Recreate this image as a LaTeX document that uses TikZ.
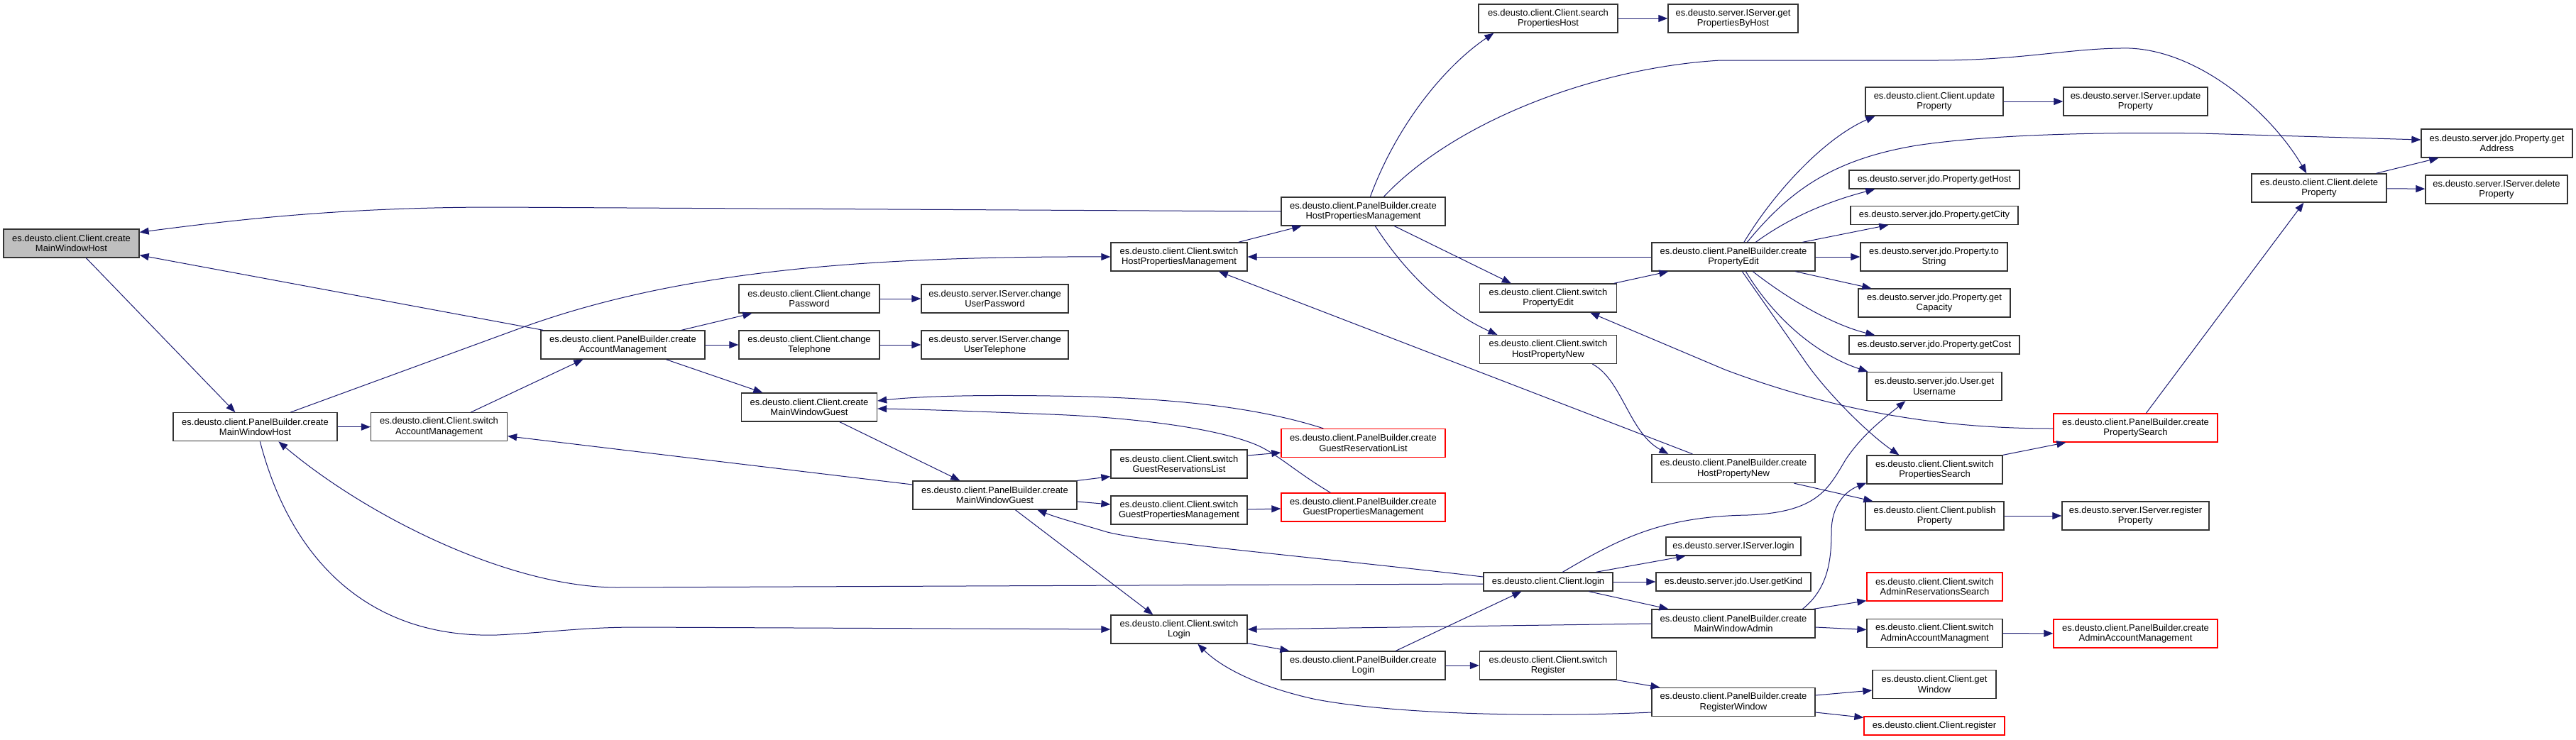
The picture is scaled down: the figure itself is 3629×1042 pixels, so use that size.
\documentclass[tikz,border=0pt]{standalone}
\usepackage{fontspec}
\setmainfont{Liberation Sans}
\usetikzlibrary{arrows.meta,calc}
\definecolor{edgeblue}{HTML}{191970}
\definecolor{nodeborder}{HTML}{333333}
\definecolor{rootfill}{HTML}{BFBFBF}
\definecolor{redborder}{HTML}{FF0000}
\begin{document}
\begin{tikzpicture}[x=1pt,y=-1pt,
  box/.style={draw=nodeborder, line width=1.3pt, fill=white, rectangle, align=center, inner sep=1pt, minimum height=40pt, font=\fontsize{13}{14.5}\selectfont},
  onebox/.style={box, minimum height=26pt},
  redbox/.style={draw=redborder},
  rootbox/.style={fill=rootfill},
  edge/.style={draw=edgeblue, line width=1pt, -{Triangle[length=13pt,width=10pt]}}]
\fill[white] (0,0) rectangle (3629,1042);
\useasboundingbox (0,0) rectangle (3629,1042);

% nodes
\node[box,rootbox,minimum width=191pt] (root) at (100.5,343) {es.deusto.client.Client.create\\MainWindowHost};
\node[box,minimum width=231pt] (pbMWH) at (359.5,601.7) {es.deusto.client.PanelBuilder.create\\MainWindowHost};
\node[box,minimum width=192pt] (swAM) at (618.5,601.7) {es.deusto.client.Client.switch\\AccountManagement};
\node[box,minimum width=231pt] (pbAM) at (877.5,486) {es.deusto.client.PanelBuilder.create\\AccountManagement};
\node[box,minimum width=198pt] (chPwd) at (1140,421) {es.deusto.client.Client.change\\Password};
\node[box,minimum width=198pt] (chTel) at (1140,486) {es.deusto.client.Client.change\\Telephone};
\node[box,minimum width=191pt] (cMWG) at (1140,574) {es.deusto.client.Client.create\\MainWindowGuest};
\node[box,minimum width=207pt] (chUPwd) at (1401.5,421) {es.deusto.server.IServer.change\\UserPassword};
\node[box,minimum width=207pt] (chUTel) at (1401.5,486) {es.deusto.server.IServer.change\\UserTelephone};
\node[box,minimum width=231pt] (pbMWG) at (1401.5,698) {es.deusto.client.PanelBuilder.create\\MainWindowGuest};
\node[box,minimum width=192pt] (swHPM) at (1661,362) {es.deusto.client.Client.switch\\HostPropertiesManagement};
\node[box,minimum width=192pt] (swGRL) at (1661,654) {es.deusto.client.Client.switch\\GuestReservationsList};
\node[box,minimum width=192pt] (swGPM) at (1661,719) {es.deusto.client.Client.switch\\GuestPropertiesManagement};
\node[box,minimum width=192pt] (swLogin) at (1661,887) {es.deusto.client.Client.switch\\Login};
\node[box,minimum width=231pt] (pbHPM) at (1920.5,298) {es.deusto.client.PanelBuilder.create\\HostPropertiesManagement};
\node[box,redbox,minimum width=231pt] (pbGRL) at (1920.5,624.5) {es.deusto.client.PanelBuilder.create\\GuestReservationList};
\node[box,redbox,minimum width=231pt] (pbGPM) at (1920.5,715) {es.deusto.client.PanelBuilder.create\\GuestPropertiesManagement};
\node[box,minimum width=231pt] (pbLogin) at (1920.5,938) {es.deusto.client.PanelBuilder.create\\Login};
\node[box,minimum width=196pt] (srchPH) at (2181,26) {es.deusto.client.Client.search\\PropertiesHost};
\node[box,minimum width=193pt] (swPE) at (2181,420) {es.deusto.client.Client.switch\\PropertyEdit};
\node[box,minimum width=193pt] (swHPN) at (2181,492.5) {es.deusto.client.Client.switch\\HostPropertyNew};
\node[onebox,minimum width=182pt] (login) at (2181,820) {es.deusto.client.Client.login};
\node[box,minimum width=193pt] (swReg) at (2181,938) {es.deusto.client.Client.switch\\Register};
\node[box,minimum width=183pt] (getPBH) at (2441.5,26) {es.deusto.server.IServer.get\\PropertiesByHost};
\node[box,minimum width=230pt] (pbPE) at (2442,362) {es.deusto.client.PanelBuilder.create\\PropertyEdit};
\node[box,minimum width=230pt] (pbHPN) at (2442,660.5) {es.deusto.client.PanelBuilder.create\\HostPropertyNew};
\node[onebox,minimum width=190pt] (srvLogin) at (2442,770) {es.deusto.server.IServer.login};
\node[onebox,minimum width=218pt] (getKind) at (2442,820) {es.deusto.server.jdo.User.getKind};
\node[box,minimum width=230pt] (pbMWA) at (2442,879) {es.deusto.client.PanelBuilder.create\\MainWindowAdmin};
\node[box,minimum width=230pt] (pbRW) at (2442,989.5) {es.deusto.client.PanelBuilder.create\\RegisterWindow};
\node[box,minimum width=194pt] (updP) at (2725,143) {es.deusto.client.Client.update\\Property};
\node[onebox,minimum width=240pt] (getHost) at (2725,253) {es.deusto.server.jdo.Property.getHost};
\node[onebox,minimum width=236pt] (getCity) at (2725,303.5) {es.deusto.server.jdo.Property.getCity};
\node[box,minimum width=207pt] (toStr) at (2724.5,362) {es.deusto.server.jdo.Property.to\\String};
\node[box,minimum width=214pt] (getCap) at (2725,427) {es.deusto.server.jdo.Property.get\\Capacity};
\node[onebox,minimum width=240pt] (getCost) at (2725,486) {es.deusto.server.jdo.Property.getCost};
\node[box,minimum width=190pt] (getUser) at (2725,544.5) {es.deusto.server.jdo.User.get\\Username};
\node[box,minimum width=191pt] (swPS) at (2725.5,662) {es.deusto.client.Client.switch\\PropertiesSearch};
\node[box,minimum width=195pt] (pubP) at (2725.5,727) {es.deusto.client.Client.publish\\Property};
\node[box,redbox,minimum width=191pt] (swARS) at (2725.5,827) {es.deusto.client.Client.switch\\AdminReservationsSearch};
\node[box,minimum width=191pt] (swAAM) at (2725.5,892.5) {es.deusto.client.Client.switch\\AdminAccountManagment};
\node[box,minimum width=174pt] (getWin) at (2725,964.5) {es.deusto.client.Client.get\\Window};
\node[onebox,redbox,minimum width=198pt] (reg) at (2725,1023) {es.deusto.client.Client.register};
\node[box,minimum width=203pt] (srvUpd) at (3008.5,143) {es.deusto.server.IServer.update\\Property};
\node[box,redbox,minimum width=231pt] (pbPS) at (3008.5,603) {es.deusto.client.PanelBuilder.create\\PropertySearch};
\node[box,minimum width=207pt] (srvReg) at (3008.5,727) {es.deusto.server.IServer.register\\Property};
\node[box,redbox,minimum width=231pt] (pbAAM) at (3008.5,893) {es.deusto.client.PanelBuilder.create\\AdminAccountManagement};
\node[box,minimum width=190pt] (delP) at (3267,265) {es.deusto.client.Client.delete\\Property};
\node[box,minimum width=213pt] (getAddr) at (3517.5,202) {es.deusto.server.jdo.Property.get\\Address};
\node[box,minimum width=200pt] (srvDel) at (3517,267) {es.deusto.server.IServer.delete\\Property};

% edges
\draw[edge] ($(root.south west)+(117,0)$) -- ($(pbMWH.north west)+(88,0)$);
\draw[edge] (pbHPM.west) -- (700,292) .. controls (480,292) and (330,310) .. ($(root.north east)+(0,5)$);
\draw[edge] ($(pbAM.north west)+(4,0)$) -- ($(root.south east)+(0,-4)$);
\draw[edge] (pbMWH) -- (swAM);
\draw[edge] ($(pbMWH.north west)+(166,0)$) -- (740,460) .. controls (950,385) and (1200,361) .. (swHPM.west);
\draw[edge] ($(swAM.north west)+(141.5,0)$) -- ($(pbAM.south west)+(60,0)$);
\draw[edge] ($(pbAM.north west)+(198.5,0)$) -- ($(chPwd.south west)+(19,0)$);
\draw[edge] (pbAM) -- (chTel);
\draw[edge] ($(pbAM.south west)+(177,0)$) -- ($(cMWG.north west)+(30.5,0)$);
\draw[edge] (chPwd) -- (chUPwd);
\draw[edge] (chTel) -- (chUTel);
\draw[edge] ($(cMWG.south west)+(139,0)$) -- ($(pbMWG.north west)+(67,0)$);
\draw[edge] ($(pbGRL.north west)+(60,0)$) .. controls (1790,580) and (1680,560) .. (1480,558) .. controls (1350,556) and (1280,560) .. ($(cMWG.east)+(0,-9)$);
\draw[edge] ($(pbGPM.north west)+(70,0)$) .. controls (1825,665) and (1800,640) .. (1770,627) .. controls (1700,598) and (1560,587) .. (1480,584) .. controls (1380,580) and (1300,577) .. ($(cMWG.east)+(0,2)$);
\draw[edge] ($(pbMWG.west)+(0,-15)$) -- ($(swAM.east)+(0,13)$);
\draw[edge] (pbMWG.north east) -- ($(swGRL.south west)+(0,-3)$);
\draw[edge] ($(pbMWG.east)+(0,9)$) -- ($(swGPM.west)+(0,-8)$);
\draw[edge] ($(swGRL.east)+(0,-12)$) -- ($(pbGRL.west)+(0,13.5)$);
\draw[edge] ($(swGPM.east)+(0,-1)$) -- ($(pbGPM.west)+(0,2)$);
\draw[edge] ($(pbMWG.south west)+(145,0)$) -- ($(swLogin.north west)+(60,0)$);
\draw[edge] ($(login.west)+(0,-7)$) .. controls (1850,785) and (1620,765) .. (1560,750) .. controls (1520,738) and (1490,730) .. ($(pbMWG.south west)+(176,0)$);
\draw[edge] ($(login.west)+(0,3)$) -- (870,828) .. controls (720,828) and (520,730) .. ($(pbMWH.south west)+(149,0)$);
\draw[edge] ($(pbMWH.south west)+(123,0)$) .. controls (410,790) and (520,900) .. (700,895) .. controls (780,891) and (820,884) .. (900,884) -- (swLogin.west);
\draw[edge] ($(swLogin.south east)+(0,-1)$) -- ($(pbLogin.north west)+(12,0)$);
\draw[edge] ($(pbLogin.north west)+(162,0)$) -- ($(login.south west)+(54,0)$);
\draw[edge] (pbLogin) -- (swReg);
\draw[edge] ($(pbRW.west)+(0,14.5)$) .. controls (2150,1012) and (1950,1005) .. (1850,985) .. controls (1770,967) and (1720,940) .. ($(swLogin.south west)+(123,0)$);
\draw[edge] (swReg.south east) -- ($(pbRW.north west)+(12,0)$);
\draw[edge] (pbMWA.west) -- (swLogin.east);
\draw[edge] ($(login.north west)+(112,0)$) .. controls (2280,760) and (2340,728) .. (2462,726) .. controls (2560,722) and (2575,690) .. (2600,648) .. controls (2625,610) and (2660,585) .. ($(getUser.south west)+(55,0)$);
\draw[edge] ($(login.north west)+(159,0)$) -- ($(srvLogin.south west)+(28,0)$);
\draw[edge] (login) -- (getKind);
\draw[edge] ($(login.south west)+(149,0)$) -- ($(pbMWA.north west)+(24,0)$);
\draw[edge] ($(pbMWA.north west)+(213,0)$) .. controls (2575,830) and (2580,790) .. (2580,750) .. controls (2580,712) and (2600,692) .. ($(swPS.south west)+(0,-2)$);
\draw[edge] ($(pbMWA.north east)+(-3,0)$) -- ($(swARS.south west)+(0,-1)$);
\draw[edge] ($(pbMWA.east)+(0,5)$) -- ($(swAAM.west)+(0,-5)$);
\draw[edge] (swAAM) -- (pbAAM);
\draw[edge] ($(pbRW.east)+(0,-9.5)$) -- ($(getWin.west)+(0,8.5)$);
\draw[edge] ($(pbRW.east)+(0,14.5)$) -- ($(reg.north west)+(0,2)$);
\draw[edge] (swPS.north east) -- ($(pbPS.south west)+(18,0)$);
\draw[edge] ($(pbPS.north west)+(131,0)$) -- ($(delP.south west)+(74,0)$);
\draw[edge] ($(pbHPM.north west)+(145,0)$) .. controls (2050,170) and (2250,95) .. (2424,85) -- (2729,85) .. controls (2850,85) and (2920,67) .. (3000,68) .. controls (3100,72) and (3200,160) .. ($(delP.north west)+(78,0)$);
\draw[edge] ($(pbHPM.north west)+(126,0)$) .. controls (1970,170) and (2040,90) .. ($(srchPH.south west)+(22,0)$);
\draw[edge] (srchPH) -- (getPBH);
\draw[edge] ($(pbHPM.south west)+(160,0)$) -- ($(swPE.north west)+(45,0)$);
\draw[edge] ($(pbHPM.south west)+(133,0)$) .. controls (1990,400) and (2050,445) .. ($(swHPN.north west)+(25.5,0)$);
\draw[edge] ($(swHPM.north east)+(-13,0)$) -- ($(pbHPM.south west)+(29,0)$);
\draw[edge] (pbPE) -- (swHPM);
\draw[edge] ($(pbHPN.north west)+(58,0)$) -- ($(swHPM.south west)+(152.5,0)$);
\draw[edge] ($(swPE.north east)+(-4.5,0)$) -- ($(pbPE.south west)+(24,0)$);
\draw[edge] ($(swHPN.south west)+(159.5,0)$) .. controls (2285,535) and (2295,610) .. ($(pbHPN.north west)+(24,0)$);
\draw[edge] ($(pbPS.west)+(0,1)$) .. controls (2750,604) and (2600,585) .. (2430,521) -- ($(swPE.south east)+(-38,0)$);
\draw[edge] ($(pbPE.south west)+(128,0)$) -- (2540,505) .. controls (2570,550) and (2630,610) .. ($(swPS.north west)+(46,0)$);
\draw[edge] ($(pbPE.south west)+(133,0)$) .. controls (2500,450) and (2560,500) .. ($(getUser.north west)+(2,0)$);
\draw[edge] ($(pbPE.south west)+(143,0)$) .. controls (2530,430) and (2590,460) .. ($(getCost.north west)+(37,0)$);
\draw[edge] ($(pbPE.south west)+(203,0)$) -- ($(getCap.north west)+(19,0)$);
\draw[edge] (pbPE) -- (toStr);
\draw[edge] ($(pbPE.north west)+(213,0)$) -- ($(getCity.south west)+(54,0)$);
\draw[edge] ($(pbPE.north west)+(147,0)$) .. controls (2530,300) and (2590,280) .. ($(getHost.south west)+(37,0)$);
\draw[edge] ($(pbPE.north west)+(135,0)$) .. controls (2520,270) and (2580,225) .. (2700,205) .. controls (2800,190) and (2950,186) .. (3100,188) -- ($(getAddr.west)+(0,-5)$);
\draw[edge] ($(pbPE.north west)+(130.5,0)$) .. controls (2500,270) and (2570,195) .. ($(updP.south west)+(14,0)$);
\draw[edge] (updP) -- (srvUpd);
\draw[edge] ($(delP.north west)+(176,0)$) -- ($(getAddr.south west)+(25,0)$);
\draw[edge] (delP) -- (srvDel);
\draw[edge] ($(pbHPN.south west)+(201,0)$) -- ($(pubP.north west)+(11,0)$);
\draw[edge] (pubP) -- (srvReg);
\end{tikzpicture}
\end{document}
